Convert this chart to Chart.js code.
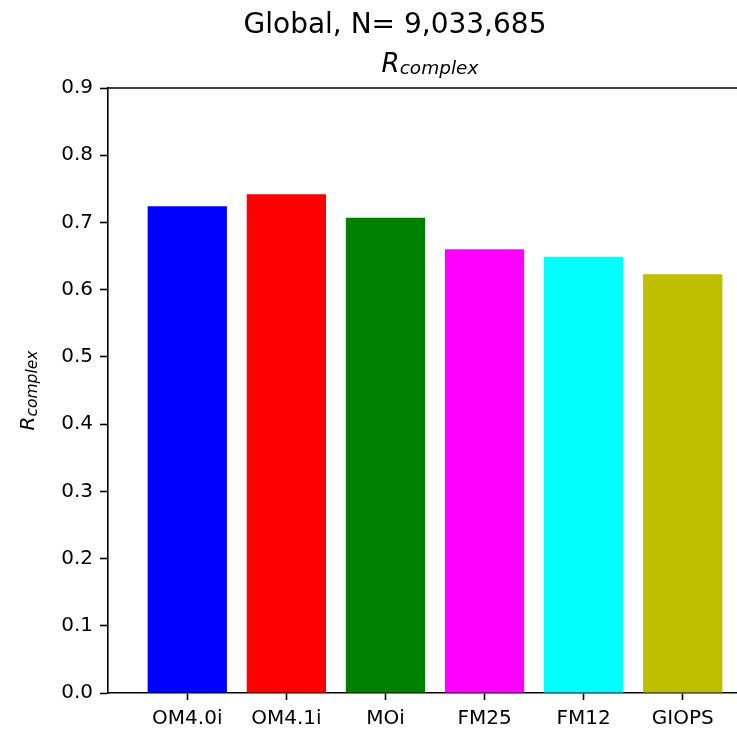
<!DOCTYPE html>
<html>
<head>
<meta charset="utf-8">
<script src="https://cdn.jsdelivr.net/npm/chart.js@4"></script>
<style>
  html, body { margin: 0; padding: 0; background: #fff; overflow: hidden; }
  canvas { display: block; }
</style>
</head>
<body>
<canvas id="chart" width="790" height="731"></canvas>
<script>
// Model runs and their complex correlation scores
const models = ['OM4.0i', 'OM4.1i', 'MOi', 'FM25', 'FM12', 'GIOPS'];
const rComplex = [0.724, 0.742, 0.707, 0.660, 0.649, 0.623];
const barColors = ['#0000ff', '#ff0000', '#008000', '#ff00ff', '#00ffff', '#bfbf00'];
const yTickValues = [0.0, 0.1, 0.2, 0.3, 0.4, 0.5, 0.6, 0.7, 0.8, 0.9];
const titleText = 'Global, N= 9,033,685';
const metricBase = 'R';
const metricSub = 'complex';

const FONT = '"DejaVu Sans", "Liberation Sans", sans-serif';

// Draws a symbol with an italic subscript, centred on (0, 0) at the baseline
function drawSubscripted(ctx, base, sub, size, subSize, drop) {
  ctx.font = 'italic ' + size + 'px ' + FONT;
  const wb = ctx.measureText(base).width;
  ctx.font = 'italic ' + subSize + 'px ' + FONT;
  const ws = ctx.measureText(sub).width;
  const x0 = -(wb + ws) / 2;
  ctx.textAlign = 'left';
  ctx.textBaseline = 'alphabetic';
  ctx.font = 'italic ' + size + 'px ' + FONT;
  ctx.fillText(base, x0, 0);
  ctx.font = 'italic ' + subSize + 'px ' + FONT;
  ctx.fillText(sub, x0 + wb, drop);
}

const frameAndLabels = {
  id: 'frameAndLabels',
  afterDraw(chart) {
    const { ctx, chartArea: a } = chart;
    ctx.save();
    // top and right spines
    ctx.strokeStyle = '#000';
    ctx.lineWidth = 1.6;
    ctx.beginPath();
    ctx.moveTo(a.left, a.top);
    ctx.lineTo(a.right, a.top);
    ctx.lineTo(a.right, a.bottom);
    ctx.stroke();

    ctx.fillStyle = '#000';
    // figure title
    ctx.font = '28px ' + FONT;
    ctx.textAlign = 'center';
    ctx.textBaseline = 'alphabetic';
    ctx.fillText(titleText, chart.width / 2, 33);

    // axes title
    ctx.save();
    ctx.translate((a.left + a.right) / 2 - 5, 72);
    drawSubscripted(ctx, metricBase, metricSub, 26, 18.5, 2);
    ctx.restore();

    // y-axis label
    ctx.save();
    ctx.translate(34, (a.top + a.bottom) / 2);
    ctx.rotate(-Math.PI / 2);
    drawSubscripted(ctx, metricBase, metricSub, 20, 15.5, 3);
    ctx.restore();

    ctx.restore();
  }
};

new Chart(document.getElementById('chart'), {
  type: 'bar',
  data: {
    datasets: [{
      data: models.map((m, i) => ({ x: i, y: rComplex[i] })),
      backgroundColor: barColors,
      borderWidth: 0,
      categoryPercentage: 1.0,
      barPercentage: 0.8
    }]
  },
  options: {
    responsive: false,
    animation: false,
    events: [],
    layout: { padding: { top: 88, right: 28, left: 0, bottom: 0 } },
    plugins: {
      legend: { display: false },
      title: { display: false },
      tooltip: { enabled: false }
    },
    scales: {
      x: {
        type: 'linear',
        offset: false,
        min: -0.8,
        max: models.length - 0.2,
        afterBuildTicks(scale) {
          scale.ticks = models.map((m, i) => ({ value: i }));
        },
        afterFit(scale) { scale.height = 38; },
        ticks: {
          autoSkip: false,
          maxRotation: 0,
          padding: 7,
          color: '#000',
          font: { family: FONT, size: 20 },
          callback: (v) => models[v]
        },
        grid: {
          offset: false,
          drawOnChartArea: false,
          drawTicks: true,
          tickLength: 7,
          tickWidth: 1.6,
          tickColor: '#000'
        },
        border: { display: true, color: '#000', width: 1.6 }
      },
      y: {
        min: 0,
        max: 0.9,
        afterBuildTicks(scale) {
          scale.ticks = yTickValues.map(v => ({ value: v }));
        },
        afterFit(scale) { scale.width = 108; },
        ticks: {
          padding: 7,
          color: '#000',
          font: { family: FONT, size: 20 },
          callback: (v) => Number(v).toFixed(1)
        },
        grid: {
          drawOnChartArea: false,
          drawTicks: true,
          tickLength: 8,
          tickWidth: 1.6,
          tickColor: '#000'
        },
        border: { display: true, color: '#000', width: 1.6 }
      }
    }
  },
  plugins: [frameAndLabels]
});
</script>
</body>
</html>
